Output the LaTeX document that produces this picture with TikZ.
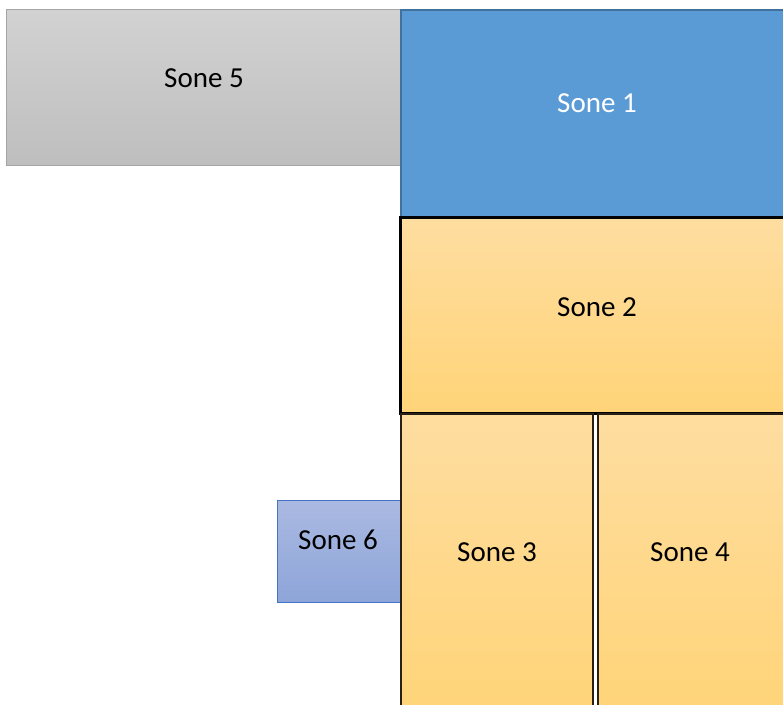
\documentclass[tikz,border=0pt]{standalone}
\usepackage{fontspec}
\setmainfont{Carlito}
\definecolor{gryTop}{RGB}{210,210,210}
\definecolor{gryBot}{RGB}{190,190,190}
\definecolor{gryLine}{RGB}{165,165,165}
\definecolor{bluFill}{RGB}{91,155,213}
\definecolor{bluLine}{RGB}{65,113,156}
\definecolor{orTop}{RGB}{254,221,160}
\definecolor{orBot}{RGB}{255,212,120}
\definecolor{orLine}{RGB}{40,32,20}
\definecolor{vioTop}{RGB}{170,185,225}
\definecolor{vioBot}{RGB}{142,165,217}
\definecolor{vioLine}{RGB}{68,114,196}
\tikzset{
  zone/.style={rectangle, inner sep=0pt, outer sep=0pt, anchor=north west},
  zgray/.style={zone, draw=gryLine, line width=1pt, top color=gryTop, bottom color=gryBot},
  zblue/.style={zone, draw=bluLine, line width=2pt, fill=bluFill},
  zorangeA/.style={zone, draw=black, line width=3pt, top color=orTop, bottom color=orBot},
  zorangeB/.style={zone, draw=orLine, line width=1.5pt, top color=orTop, bottom color=orBot},
  zviolet/.style={zone, draw=vioLine, line width=1pt, top color=vioTop, bottom color=vioBot},
  lbl/.style={font=\fontsize{29}{34}\selectfont, text=black, inner sep=0pt},
  lblw/.style={lbl, text=white}
}
\begin{document}
\begin{tikzpicture}[x=1pt,y=-1pt]
\useasboundingbox (0,0) rectangle (783,704);
\clip (0,0) rectangle (783,704);
\node[zgray, minimum width=394pt, minimum height=156pt] (z5) at (6.5,9.5) {};
\node[zblue, minimum width=400pt, minimum height=208pt] (z1) at (401,10) {};
\node[zviolet, minimum width=124pt, minimum height=102pt] (z6) at (277,500.5) {};
\node[zorangeA, minimum width=400pt, minimum height=196pt] (z2) at (400.5,217.5) {};
\node[zorangeB, minimum width=192pt, minimum height=300pt] (z3) at (401,414) {};
\node[zorangeB, minimum width=200pt, minimum height=300pt] (z4) at (598,414) {};
\node[lbl] (t5) at (204,78) {Sone 5};
\node[lblw] (t1) at (597,103) {Sone 1};
\node[lbl] (t2) at (597,307) {Sone 2};
\node[lbl] (t3) at (497,552) {Sone 3};
\node[lbl] (t4) at (690,552) {Sone 4};
\node[lbl] (t6) at (338,540) {Sone 6};
\end{tikzpicture}
\end{document}
